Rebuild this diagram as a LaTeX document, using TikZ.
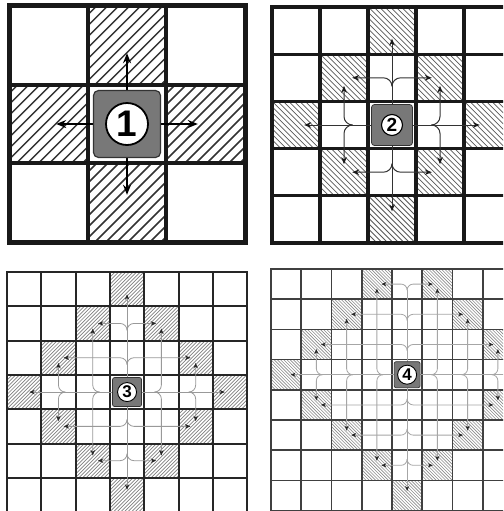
\documentclass[tikz,border=0pt]{standalone}
\usepackage{fontspec}
\setmainfont{Liberation Sans}
\usetikzlibrary{arrows.meta}
\definecolor{boxgray}{gray}{0.47}
\newcommand\hatchcell[2]{%
  \pgfmathsetmacro\xa{\PX+#2*\CW}%
  \pgfmathsetmacro\ya{\PY+#1*\CH}%
  \pgfmathsetmacro\xb{\xa+\CW}%
  \pgfmathsetmacro\yb{\ya+\CH}%
  \pgfmathsetmacro\ystart{\HSIGN>0 ? \ya : \yb}%
  \pgfmathtruncatemacro\nk{(\CW+\CH)/\HS+2}%
  \begin{scope}
    \clip (\xa,\ya) rectangle (\xb,\yb);
    \foreach \kk in {0,...,\nk}{%
      \draw[hatchline] ({\xa-\CH-2+\kk*\HS},\ystart) -- ++({\CH+6},{\HSIGN*(\CH+6)});
    }
  \end{scope}}
\newcommand\mkpanel[9]{%
  \def\PX{#1}\def\PY{#2}\def\CW{#3}\def\CH{#4}%
  \def\NR{#5}\def\NC{#6}\def\CR{#7}\def\CC{#8}\def\RN{#9}%
  \pgfmathtruncatemacro\NRm{\NR-1}%
  \pgfmathtruncatemacro\NCm{\NC-1}%
  \pgfmathtruncatemacro\RNm{\RN-1}%
  \foreach \ii in {0,...,\NRm}{%
    \foreach \jj in {0,...,\NCm}{%
      \pgfmathtruncatemacro\dd{abs(\ii-\CR)+abs(\jj-\CC)}%
      \ifnum\dd=\RN\relax\hatchcell{\ii}{\jj}\fi
    }%
  }%
  \foreach \ii in {1,...,\NRm}{\draw[gridline] (\PX,{\PY+\ii*\CH}) -- ++({\NC*\CW},0);}%
  \foreach \jj in {1,...,\NCm}{\draw[gridline] ({\PX+\jj*\CW},\PY) -- ++(0,{\NR*\CH});}%
  \draw[gridouter] (\PX,\PY) rectangle ++({\NC*\CW},{\NR*\CH});
  \pgfmathsetmacro\XS{\PX+(\CC+0.5)*\CW}%
  \pgfmathsetmacro\YS{\PY+(\CR+0.5)*\CH}%
  \pgfmathsetmacro\dx{\DD*\CW}%
  \pgfmathsetmacro\dy{\DD*\CH}%
  % spines
  \ifnum\TOPCUT=1
    \pgfmathsetmacro\ytop{\PY+(\CR-\RNm+0.5)*\CH+\dy}%
    \draw[arrline] (\XS,\YS-\G) -- (\XS,\ytop);
  \else
    \pgfmathsetmacro\ytop{\PY+(\CR-\RN+0.5)*\CH+\TT*\CH}%
    \draw[arr] (\XS,\YS-\G) -- (\XS,\ytop);
  \fi
  \pgfmathsetmacro\ybot{\PY+(\CR+\RN+0.5)*\CH-\TT*\CH}%
  \draw[arr] (\XS,\YS+\G) -- (\XS,\ybot);
  \pgfmathsetmacro\xlft{\PX+(\CC-\RN+0.5)*\CW+\TT*\CW}%
  \draw[arr] (\XS-\G,\YS) -- (\xlft,\YS);
  \pgfmathsetmacro\xrgt{\PX+(\CC+\RN+0.5)*\CW-\TT*\CW}%
  \draw[arr] (\XS+\G,\YS) -- (\xrgt,\YS);
  % braces
  \ifnum\RN>1
  \foreach \kk in {1,...,\RNm}{%
    \pgfmathtruncatemacro\mm{\RN-\kk}%
    \pgfmathsetmacro\xL{\PX+(\CC-\mm+0.5)*\CW+\TT*\CW}%
    \pgfmathsetmacro\xR{\PX+(\CC+\mm+0.5)*\CW-\TT*\CW}%
    \pgfmathsetmacro\yU{\PY+(\CR-\mm+0.5)*\CH+\TT*\CH}%
    \pgfmathsetmacro\yD{\PY+(\CR+\mm+0.5)*\CH-\TT*\CH}%
    % row above
    \pgfmathsetmacro\yc{\PY+(\CR-\kk+0.5)*\CH}%
    \draw[arr] (\XS,\yc+\dy) .. controls (\XS,\yc+0.45*\dy) and (\XS-0.45*\dx,\yc) .. (\XS-\dx,\yc) -- (\xL,\yc);
    \draw[arr] (\XS,\yc+\dy) .. controls (\XS,\yc+0.45*\dy) and (\XS+0.45*\dx,\yc) .. (\XS+\dx,\yc) -- (\xR,\yc);
    % row below
    \pgfmathsetmacro\yc{\PY+(\CR+\kk+0.5)*\CH}%
    \draw[arr] (\XS,\yc-\dy) .. controls (\XS,\yc-0.45*\dy) and (\XS-0.45*\dx,\yc) .. (\XS-\dx,\yc) -- (\xL,\yc);
    \draw[arr] (\XS,\yc-\dy) .. controls (\XS,\yc-0.45*\dy) and (\XS+0.45*\dx,\yc) .. (\XS+\dx,\yc) -- (\xR,\yc);
    % column left
    \pgfmathsetmacro\xc{\PX+(\CC-\kk+0.5)*\CW}%
    \draw[arr] (\xc+\dx,\YS) .. controls (\xc+0.45*\dx,\YS) and (\xc,\YS-0.45*\dy) .. (\xc,\YS-\dy) -- (\xc,\yU);
    \draw[arr] (\xc+\dx,\YS) .. controls (\xc+0.45*\dx,\YS) and (\xc,\YS+0.45*\dy) .. (\xc,\YS+\dy) -- (\xc,\yD);
    % column right
    \pgfmathsetmacro\xc{\PX+(\CC+\kk+0.5)*\CW}%
    \draw[arr] (\xc-\dx,\YS) .. controls (\xc-0.45*\dx,\YS) and (\xc,\YS-0.45*\dy) .. (\xc,\YS-\dy) -- (\xc,\yU);
    \draw[arr] (\xc-\dx,\YS) .. controls (\xc-0.45*\dx,\YS) and (\xc,\YS+0.45*\dy) .. (\xc,\YS+\dy) -- (\xc,\yD);
  }%
  \fi
  % centre
  \filldraw[centerbox] (\XS-\G,\YS-\G) rectangle (\XS+\G,\YS+\G);
  \node[numcircle] (c\NUM) at (\XS,\YS) {\NUM};
}
\begin{document}
\begin{tikzpicture}[x=1pt,y=-1pt]
\useasboundingbox (0,0) rectangle (503,511);
\clip (0,0) rectangle (503,511);
\fill[white] (0,0) rectangle (503,511);
% ---------- panel 1
\tikzset{
  gridline/.style={draw=black!90, line width=4pt},
  gridouter/.style={draw=black!90, line width=5pt},
  hatchline/.style={draw=black!80, line width=1.5pt},
  arr/.style={draw=black, line width=1.5pt, -{Stealth[length=10pt,width=8pt]}},
  arrline/.style={draw=black, line width=1.5pt},
  centerbox/.style={fill=boxgray, draw=black!80, line width=1.2pt, rounded corners=5pt},
  numcircle/.style={circle, fill=white, draw=black, line width=1.8pt, minimum size=42pt, inner sep=0pt, font=\fontsize{37}{37}\selectfont\bfseries}
}
\def\HS{11}\def\HSIGN{-1}\def\G{33.5}\def\TT{0.1}\def\DD{0.2}\def\TOPCUT{0}\def\NUM{1}
\mkpanel{9}{6}{78.67}{78.67}{3}{3}{1}{1}{1}
% ---------- panel 2
\tikzset{
  gridline/.style={draw=black!90, line width=3.2pt},
  gridouter/.style={draw=black!90, line width=3.6pt},
  hatchline/.style={draw=black!65, line width=0.75pt},
  arr/.style={draw=black!80, line width=1pt, -{Stealth[length=7pt,width=5.5pt,color=black!90]}},
  arrline/.style={draw=black!80, line width=1pt},
  centerbox/.style={fill=boxgray, draw=black!80, line width=0.8pt, rounded corners=3pt},
  numcircle/.style={circle, fill=white, draw=black, line width=1.1pt, minimum size=21pt, inner sep=0pt, font=\fontsize{19}{19}\selectfont\bfseries}
}
\def\HS{5.5}\def\HSIGN{1}\def\G{20.5}\def\TT{0.17}\def\DD{0.18}\def\TOPCUT{0}\def\NUM{2}
\mkpanel{272}{7}{48}{47.2}{5}{5}{2}{2}{2}
% ---------- panel 3
\tikzset{
  gridline/.style={draw=black!85, line width=2pt},
  gridouter/.style={draw=black!85, line width=2.2pt},
  hatchline/.style={draw=black!50, line width=0.7pt},
  arr/.style={draw=black!40, line width=0.8pt, -{Stealth[length=5.5pt,width=4.5pt,color=black!85]}},
  arrline/.style={draw=black!40, line width=0.8pt},
  centerbox/.style={fill=boxgray, draw=black!80, line width=0.7pt, rounded corners=2pt},
  numcircle/.style={circle, fill=white, draw=black, line width=0.9pt, minimum size=19pt, inner sep=0pt, font=\fontsize{17}{17}\selectfont\bfseries}
}
\def\HS{3.6}\def\HSIGN{-1}\def\G{14.5}\def\TT{0.15}\def\DD{0.2}\def\TOPCUT{0}\def\NUM{3}
\mkpanel{7}{272}{34.3}{34.3}{7}{7}{3}{3}{3}
% ---------- panel 4
\tikzset{
  gridline/.style={draw=black!75, line width=1.6pt},
  gridouter/.style={draw=black!75, line width=1.8pt},
  hatchline/.style={draw=black!45, line width=0.6pt},
  arr/.style={draw=black!35, line width=0.8pt, -{Stealth[length=5pt,width=4.2pt,color=black!85]}},
  arrline/.style={draw=black!35, line width=0.8pt},
  centerbox/.style={fill=boxgray, draw=black!80, line width=0.7pt, rounded corners=2pt},
  numcircle/.style={circle, fill=white, draw=black, line width=0.9pt, minimum size=19pt, inner sep=0pt, font=\fontsize{17}{17}\selectfont\bfseries}
}
\def\HS{3.2}\def\HSIGN{1}\def\G{13}\def\TT{0.15}\def\DD{0.2}\def\TOPCUT{1}\def\NUM{4}
\mkpanel{271}{269}{30.25}{30.2}{8}{9}{3}{4}{4}
\end{tikzpicture}
\end{document}
